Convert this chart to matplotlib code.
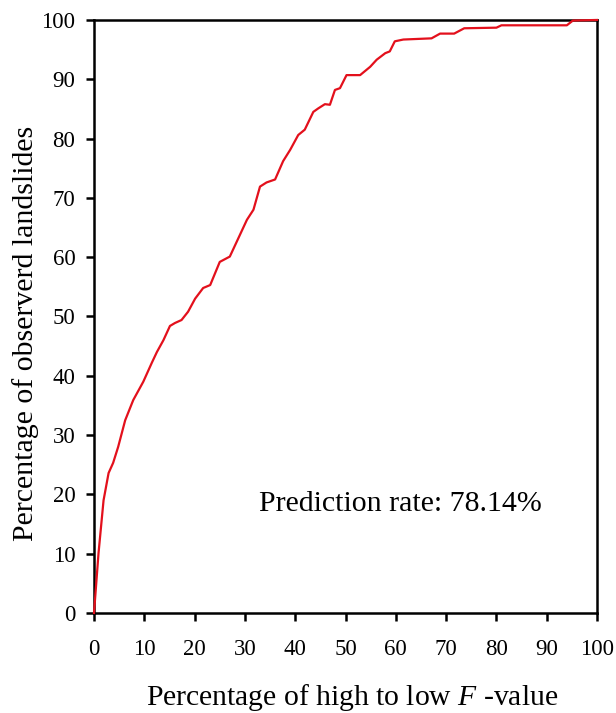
import matplotlib.pyplot as plt

# percentage of area (high to low F-value) vs. cumulative percentage of landslides
pct_area = [0, 0.9, 1.9, 2.9, 3.8, 4.8, 6.2, 7.8, 9.8, 11.5, 12.5, 13.8, 15.1,
            16.1, 17.4, 18.7, 20.1, 21.7, 23.1, 25.0, 27.0, 28.7, 30.4, 31.7,
            33.0, 34.3, 36.0, 37.6, 39.0, 40.6, 41.9, 43.6, 44.6, 45.9, 46.9,
            47.9, 48.9, 50.2, 52.9, 54.9, 56.2, 57.9, 58.8, 59.8, 61.5, 67.1,
            68.8, 71.6, 73.6, 80.0, 81.0, 94.0, 95.2, 100]
pct_landslides = [0, 10.1, 19.0, 23.6, 25.3, 28.0, 32.5, 35.9, 39.0, 42.2, 44.0,
                  46.0, 48.4, 48.9, 49.4, 50.8, 53.0, 54.8, 55.3, 59.2, 60.1,
                  63.2, 66.3, 68.0, 71.9, 72.6, 73.1, 76.2, 78.1, 80.6, 81.5,
                  84.5, 85.1, 85.8, 85.7, 88.2, 88.5, 90.7, 90.7, 92.1, 93.3,
                  94.4, 94.7, 96.4, 96.7, 96.9, 97.7, 97.7, 98.6, 98.7, 99.1,
                  99.1, 99.9, 100]
ticks = list(range(0, 101, 10))
rate_label = "Prediction rate: 78.14%"


def main():
	plt.rcParams['font.family'] = ['Liberation Serif', 'DejaVu Serif']
	plt.rcParams['mathtext.fontset'] = 'custom'
	plt.rcParams['mathtext.it'] = 'Liberation Serif:italic'
	plt.rcParams['mathtext.rm'] = 'Liberation Serif'

	fig = plt.figure(figsize=(6.16, 7.13), dpi=100)
	ax = fig.add_axes([0.1526, 0.1403, 0.8166, 0.8317])

	ax.plot(pct_area, pct_landslides, color='#e3101c', lw=1.6, clip_on=False, zorder=3)

	ax.set_xlim(0, 100)
	ax.set_ylim(0, 100)
	ax.set_xticks(ticks)
	ax.set_yticks(ticks)
	ax.tick_params(direction='out', length=6, width=1.8, labelsize=16.5)
	ax.tick_params(axis='x', pad=13)
	ax.tick_params(axis='y', pad=7.5)
	for s in ax.spines.values():
		s.set_linewidth(1.8)

	ax.text(61, 18.3, rate_label, fontsize=21.5, ha='center', va='center')
	ax.set_xlabel("Percentage of high to low $F$ -value", fontsize=21.3, va='center')
	ax.xaxis.set_label_coords(0.513, -0.142)
	ax.set_ylabel("Percentage of observerd landslides", fontsize=21.5, va='center')
	ax.yaxis.set_label_coords(-0.137, 0.471)

	fig.savefig("out.png", dpi=100)


main()
